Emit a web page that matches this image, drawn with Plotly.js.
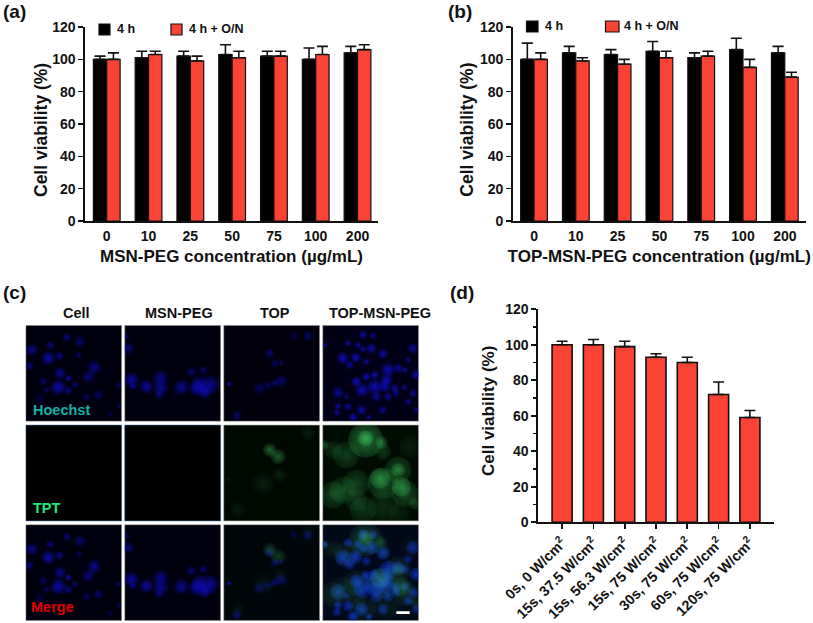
<!DOCTYPE html>
<html><head><meta charset="utf-8">
<script src="https://cdn.plot.ly/plotly-3.0.1.min.js"></script>
<style>html,body{margin:0;padding:0;background:#fff}#c{width:813px;height:623px}</style>
</head><body><div id="c"></div>
<script>
// ---------- chart data ----------
const concentrations = ['0','10','25','50','75','100','200'];
const seriesNames = ['4 h','4 h + O/N'];
const aShort = [100,101,102,103,102,100,104];
const aShortErr = [2,4,3,6,3,7,4];
const aLong = [100,103,99,101,102,103,106];
const aLongErr = [4,2,3,4,3,5,3];
const bShort = [100,104,103,105,101,106,104];
const bShortErr = [10,4,3,6,3,7,4];
const bLong = [100,99,97,101,102,95,89];
const bLongErr = [4,2,3,4,3,5,3];
const dLabels = ['0s, 0 W/cm<sup>2</sup>','15s, 37.5 W/cm<sup>2</sup>','15s, 56.3 W/cm<sup>2</sup>','15s, 75 W/cm<sup>2</sup>','30s, 75 W/cm<sup>2</sup>','60s, 75 W/cm<sup>2</sup>','120s, 75 W/cm<sup>2</sup>'];
const dValues = [100,100,99,93,90,72,59];
const dErr = [2,3,3,2,3,7,4];
const columnHeads = ['Cell','MSN-PEG','TOP','TOP-MSN-PEG'];
const stainLabels = ['Hoechst','TPT','Merge'];
// micrograph cell blobs, each [x, y, diameter, intensity] in micrograph units
const nucleiCell = [[68,99,32,1],[18,74,28,.8],[11,122,20,.7],[123,36,20,.7],[163,49,28,.6],[73,59,20,.7],[101,92,20,.8],[160,89,16,.6],[206,126,32,.8],[128,159,16,1],[103,144,28,.8],[188,154,28,.7],[98,186,36,1],[53,169,20,.6],[63,194,16,.6],[148,179,16,.7],[128,196,20,.7],[218,209,24,.6],[183,216,20,.5],[278,179,14,.6],[43,219,28,.3],[281,242,12,.6],[253,266,16,.4]];
const nucleiMsn = [[20,164,36,.9],[10,69,28,.7],[5,34,16,.5],[65,184,32,.9],[108,159,36,.8],[108,189,36,.8],[103,209,20,.6],[170,186,36,.8],[200,139,24,.6],[235,134,20,.6],[225,174,36,.7],[255,179,44,.8],[215,189,36,.9],[240,199,32,.9],[25,184,16,.8]];
const nucleiTop = [[210,32,20,.4],[252,32,24,.6],[138,84,24,.6],[153,114,20,.6],[173,112,14,.6],[173,166,28,.6],[153,174,20,.6],[133,180,20,.5],[108,189,28,.5],[16,176,12,1],[40,271,24,.6]];
const nucleiBoth = [[6,59,12,.9],[121,29,20,.9],[151,31,16,.8],[76,54,16,.9],[106,59,16,.9],[146,69,24,.9],[121,72,16,.9],[181,86,24,.9],[61,99,28,1],[99,97,24,1],[81,119,20,.8],[131,109,16,.8],[271,69,24,.8],[256,104,16,.7],[196,134,32,1],[226,129,24,.8],[246,134,16,.8],[281,149,24,1],[131,154,20,1],[156,149,20,1],[101,169,24,1],[191,164,28,1],[118,194,32,1],[156,184,36,1],[186,184,28,.9],[216,189,20,.9],[246,186,16,.8],[161,214,24,.8],[196,214,20,.8],[221,204,16,.8],[271,204,20,.8],[46,202,28,.8],[256,229,16,.8],[46,242,16,.9],[76,244,20,.9],[116,254,24,.9],[181,254,20,.8],[43,262,16,.8],[91,276,20,1],[139,276,12,1],[281,254,16,.8],[71,214,12,.7]];
const tptTop = [[138,75,34,.6],[163,95,38,.55],[253,25,36,.14],[118,175,56,.15],[168,150,36,.16],[43,255,40,.13],[13,163,14,.12]];
const tptBoth = [[71,90,60,.4],[31,75,40,.3],[181,80,36,.35],[261,65,48,.14],[226,135,60,.5],[181,175,70,.55],[246,205,60,.5],[101,175,60,.42],[61,195,60,.4],[30,210,60,.42],[100,225,50,.3],[121,255,60,.32],[181,245,70,.25],[230,265,50,.15],[276,235,28,.4],[5,60,20,.45],[129,45,78,.8],[176,53,28,.65],[171,160,46,.75],[236,185,44,.75],[226,135,30,.6],[129,40,34,.85]];

// ---------- layout helpers ----------
const W=813,H=623;
const px=x=>x/W, py=y=>1-y/H;
const FONT='Liberation Sans, Arial, sans-serif';
const RED='#fb4335', BLK='#000';
const boldFont=(s,c)=>({family:FONT,size:s,color:c||'#111',weight:700});

function barTrace(x,y,e,color,name,xa,ya,lw){
  return {type:'bar',x:x,y:y,name:name,xaxis:xa,yaxis:ya,showlegend:false,
    marker:{color:color,line:{color:'#111',width:lw}},
    error_y:{type:'data',symmetric:false,array:e,arrayminus:e.map(()=>0),color:'#111',thickness:1.6,width:5.5}};
}
function yAxis(top,bottom,anchor,minor){
  return {domain:[py(bottom),py(top)],range:[0,120],dtick:20,anchor:anchor,showgrid:false,zeroline:false,
    showline:true,linewidth:1.6,linecolor:'#111',ticks:'outside',ticklen:5,tickwidth:1.6,tickcolor:'#111',
    tickfont:boldFont(14),automargin:false,fixedrange:true,
    minor:minor?{dtick:10,ticks:'outside',ticklen:3,tickwidth:1.2,tickcolor:'#111',showgrid:false}:undefined};
}
function xAxis(l,r,range,anchor,title,size,extra){
  return Object.assign({domain:[px(l),px(r)],range:range,type:'category',anchor:anchor,showgrid:false,zeroline:false,
    showline:true,linewidth:1.6,linecolor:'#111',ticks:'',ticklabelstandoff:2,tickfont:boldFont(14),automargin:false,fixedrange:true,
    title:title?{text:title,font:boldFont(size),standoff:6}:undefined},extra||{});
}

const traces=[
  barTrace(concentrations,aShort,aShortErr,BLK,seriesNames[0],'x','y',1.2),
  barTrace(concentrations,aLong,aLongErr,RED,seriesNames[1],'x','y',1.2),
  barTrace(concentrations,bShort,bShortErr,BLK,seriesNames[0],'x2','y2',1.2),
  barTrace(concentrations,bLong,bLongErr,RED,seriesNames[1],'x2','y2',1.2),
  barTrace(dLabels,dValues,dErr,RED,'Cell viability','x3','y3',1.6)
];

// ---------- micrograph grid ----------
const CELL=288,PX=297,PY=299;
const rgba=(c,a)=>`rgba(${c[0]},${c[1]},${c[2]},${a})`;
function blobTrace(blobs,col,row,core,gain,grow,edge,opacity){
  return {type:'scatter',mode:'markers',xaxis:'x4',yaxis:'y4',showlegend:false,hoverinfo:'skip',cliponaxis:true,opacity:opacity||1,
    x:blobs.map(b=>b[0]+col*PX),y:blobs.map(b=>b[1]+row*PY),
    marker:{size:blobs.map(b=>b[2]/3*grow),line:{width:0},color:blobs.map(b=>rgba(core,Math.min(1,b[3]*gain)*edge)),
      gradient:{type:'radial',color:blobs.map(b=>rgba(core,Math.min(1,b[3]*gain)))}}};
}
const BLUE=[14,14,255],GREEN=[70,225,105];
const nucleiPanels=[nucleiCell,nucleiMsn,nucleiTop,nucleiBoth];
nucleiPanels.forEach((n,c)=>traces.push(blobTrace(n,c,0,BLUE,c===3?1:.95,1.35,.12)));
nucleiPanels.forEach((n,c)=>traces.push(blobTrace(n,c,2,c===3?[15,60,255]:BLUE,c===3?.95:.95,c===3?1.7:1.35,c===3?.3:.12)));
traces.push(blobTrace(tptTop,2,1,GREEN,1,1.25,.15));
traces.push(blobTrace(tptBoth,3,1,GREEN,.85,1.35,.3));
traces.push(blobTrace(tptTop,2,2,GREEN,.8,1.25,.15,.8));
traces.push(blobTrace(tptBoth,3,2,GREEN,.7,1.3,.25,.75));

const shapes=[];
const panelFill=[['#01000f','#01000f','#01000c','#020016'],['#000','#000','#000802','#000c02'],['#01000f','#01000f','#01060a','#020818']];
for(let r=0;r<3;r++)for(let c=0;c<4;c++){
  shapes.push({type:'rect',xref:'x4',yref:'y4',layer:'below',x0:c*PX,x1:c*PX+CELL,y0:r*PY,y1:r*PY+CELL,
    fillcolor:panelFill[r][c],line:{width:0.8,color:(r===1&&c<2)?'#3a5f8f':'#999'}});
}
[0,1,2].forEach(c=>shapes.push({type:'rect',xref:'x4',yref:'y4',layer:'above',x0:c*PX+CELL+1.5,x1:(c+1)*PX-1.5,y0:0,y1:3*PY,fillcolor:'#fff',line:{width:0}}));
[0,1].forEach(r=>shapes.push({type:'rect',xref:'x4',yref:'y4',layer:'above',x0:0,x1:4*PX,y0:r*PY+CELL+1.5,y1:(r+1)*PY-1.5,fillcolor:'#fff',line:{width:0}}));
shapes.push({type:'rect',xref:'x4',yref:'y4',layer:'above',x0:3*PX+221,x1:3*PX+261,y0:2*PY+260,y1:2*PY+268,fillcolor:'#fff',line:{width:0}});

// legend swatches (a, b)
const swatch=(x0,x1,y0,y1,fill)=>shapes.push({type:'rect',xref:'paper',yref:'paper',x0:px(x0),x1:px(x1),y0:py(y1),y1:py(y0),fillcolor:fill,line:{color:'#111',width:1.2}});
swatch(99,110,24,35,BLK); swatch(171,182,24,35,RED);
swatch(526.5,538,21,32,BLK); swatch(605.5,619,21,32,RED);

const ann=(t,x,y,f,anchor,angle)=>({text:t,x:px(x),y:py(y),xref:'paper',yref:'paper',showarrow:false,font:f,xanchor:anchor||'center',yanchor:'middle',align:'center',textangle:angle||0});
const annotations=[
  ann('(a)',1,12,boldFont(19),'left'),ann('(b)',446,12,boldFont(19),'left'),
  ann('(c)',1,292,boldFont(19),'left'),ann('(d)',448,292,boldFont(19),'left'),
  ann(seriesNames[0],115,29,boldFont(12.5),'left'),ann(seriesNames[1],187,29,boldFont(12.5),'left'),
  ann(seriesNames[0],543,26.5,boldFont(12.5),'left'),ann(seriesNames[1],622,26.5,boldFont(12.5),'left'),
  ann(columnHeads[0],76,313,boldFont(14.5)),ann(columnHeads[1],179,313,boldFont(14.5)),
  ann(columnHeads[2],275,313,boldFont(14.5)),ann(columnHeads[3],380,313,boldFont(14.5)),
  ann(stainLabels[0],31,410,boldFont(14.5,'#12b0a4'),'left'),
  ann(stainLabels[1],31,508,boldFont(14.5,'#22e87a'),'left'),
  ann(stainLabels[2],29,607,boldFont(14.5,'#e00000'),'left'),
  ann('Cell viability (%)',41,130,boldFont(17.5),'center',-90),
  ann('Cell viability (%)',466.7,130,boldFont(17.5),'center',-90),
  ann('Cell viability (%)',488,411,boldFont(17),'center',-90)
];

const layout={
  width:W,height:H,margin:{l:0,r:0,t:0,b:0},paper_bgcolor:'#fff',plot_bgcolor:'rgba(0,0,0,0)',
  barmode:'group',bargap:.36,bargroupgap:0,showlegend:false,
  font:{family:FONT,color:'#111'},shapes:shapes,annotations:annotations,
  xaxis:xAxis(85,378,[-.52,6.49],'y','MSN-PEG concentration (µg/mL)',17),
  yaxis:yAxis(27,221,'x',false),
  xaxis2:xAxis(512.7,805.7,[-.51,6.5],'y2','TOP-MSN-PEG concentration (µg/mL)',17),
  yaxis2:yAxis(27,221,'x2',false),
  xaxis3:xAxis(538,774,[-.77,6.77],'y3',null,0,{ticks:'outside',ticklen:5,tickwidth:1.6,tickcolor:'#111',tickangle:-45,ticklabelstandoff:0,tickfont:boldFont(14.3)}),
  yaxis3:yAxis(309.3,522.3,'x3',true),
  xaxis4:{domain:[px(25.7),px(25.7+(3*PX+CELL)/3)],range:[0,3*PX+CELL],visible:false,anchor:'y4',fixedrange:true},
  yaxis4:{domain:[py(325.3+(2*PY+CELL)/3),py(325.3)],range:[2*PY+CELL,0],visible:false,anchor:'x4',fixedrange:true}
};
Plotly.newPlot('c',traces,layout,{displayModeBar:false,staticPlot:true});
</script></body></html>
